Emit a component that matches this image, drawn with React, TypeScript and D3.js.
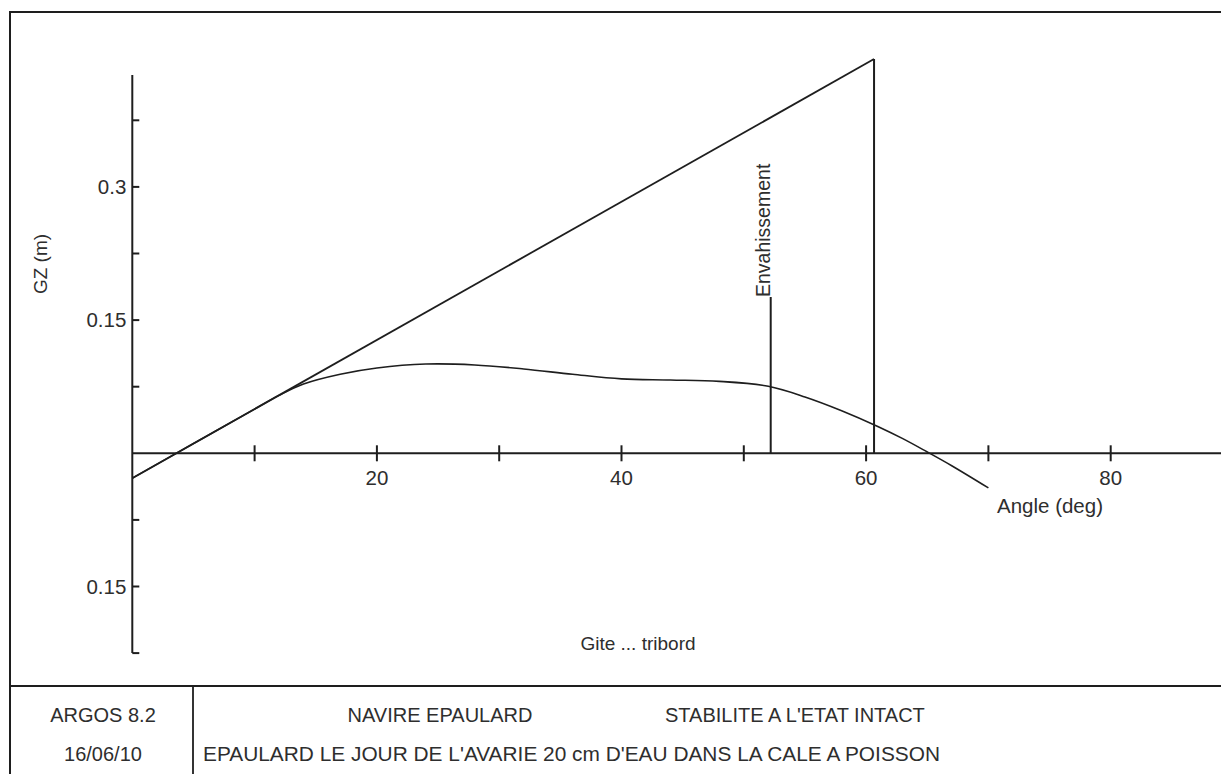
import React from "react";
import * as d3 from "d3";

// ---- data ----
const gzAngles = [0, 5, 10, 12, 14, 17, 20, 24, 28, 32, 36, 40, 44, 48, 52, 55, 58, 61, 63, 65, 67, 70];
const gzValues = [-0.028, 0.011, 0.0498, 0.0652, 0.078, 0.089, 0.096, 0.1005, 0.0995, 0.095, 0.089, 0.0838, 0.0826, 0.081, 0.0755, 0.0635, 0.048, 0.03, 0.0165, 0.0015, -0.014, -0.039];
const heelLineAngles = [0, 60.65];
const heelLineValues = [-0.028, 0.444];
const floodingAngle = 52.2;
const floodingTop = 0.176;
const xTicks = [10, 20, 30, 40, 50, 60, 70, 80, 90];
const xTickLabels = [20, 40, 60, 80];
const yTicks = [0.375, 0.3, 0.225, 0.15, 0.075, -0.075, -0.15, -0.225];
const yTickLabels = [0.3, 0.15, -0.15];

const W = 1221;
const H = 774;
const FONT = "'Liberation Sans', Arial, sans-serif";
const INK = "#1e1e1e";
const TXT = "#2e2e2e";

export default function App() {
  const x = d3.scaleLinear().domain([0, 10]).range([132.3, 254.6]);
  const y = d3.scaleLinear().domain([0, 0.075]).range([453.3, 386.7]);
  const x0 = x(0);
  const y0 = y(0);
  const yTop = y(0.426);
  const yBot = y(-0.225);

  const curve = d3
    .line<number>()
    .x((_, i) => x(gzAngles[i]))
    .y((d) => y(d))
    .curve(d3.curveCatmullRom.alpha(0.5))(gzValues) as string;

  const straight = d3
    .line<number>()
    .x((_, i) => x(heelLineAngles[i]))
    .y((d) => y(d))(heelLineValues) as string;

  const apexX = x(heelLineAngles[1]);
  const apexY = y(heelLineValues[1]);

  return (
    <svg
      width={W}
      height={H}
      viewBox={`0 0 ${W} ${H}`}
      style={{ position: "absolute", left: 0, top: 0, background: "#fff" }}
      fontFamily={FONT}
    >
      <rect x={0} y={0} width={W} height={H} fill="#fff" />
      {/* frame */}
      <rect x={10} y={12} width={1300} height={900} fill="none" stroke={INK} strokeWidth={2} />
      <line x1={10} x2={W} y1={686} y2={686} stroke={INK} strokeWidth={2.2} />
      <line x1={193} x2={193} y1={686} y2={H} stroke={INK} strokeWidth={1.8} />

      {/* axes */}
      <line x1={x0} x2={x0} y1={yTop} y2={yBot} stroke={INK} strokeWidth={2} />
      <line x1={x0} x2={W} y1={y0} y2={y0} stroke={INK} strokeWidth={2} />
      {yTicks.map((t) => (
        <line key={"yt" + t} x1={x0} x2={x0 + 7} y1={y(t)} y2={y(t)} stroke={INK} strokeWidth={2} />
      ))}
      {xTicks.map((t) => (
        <line key={"xt" + t} x1={x(t)} x2={x(t)} y1={y0 - 8} y2={y0 + 8} stroke={INK} strokeWidth={2} />
      ))}
      {yTickLabels.map((t) => (
        <text key={"yl" + t} x={x0 - 6} y={y(t) + 7} textAnchor="end" fontSize={20.5} fill={TXT}>
          {d3.format(".2~f")(Math.abs(t))}
        </text>
      ))}
      {xTickLabels.map((t) => (
        <text key={"xl" + t} x={x(t)} y={y0 + 32} textAnchor="middle" fontSize={20.5} fill={TXT}>
          {t}
        </text>
      ))}

      {/* axis titles */}
      <text transform={`translate(47,264) rotate(-90)`} textAnchor="middle" fontSize={19} fill={TXT}>
        GZ (m)
      </text>
      <text x={997} y={513} fontSize={20.5} fill={TXT}>
        Angle (deg)
      </text>
      <text x={638} y={650} textAnchor="middle" fontSize={19} fill={TXT}>
        Gite ... tribord
      </text>

      {/* data */}
      <path d={straight} fill="none" stroke={INK} strokeWidth={1.8} />
      <line x1={apexX} x2={apexX} y1={apexY} y2={y0} stroke={INK} strokeWidth={2} />
      <path d={curve} fill="none" stroke={INK} strokeWidth={1.6} />
      <line x1={x(floodingAngle)} x2={x(floodingAngle)} y1={y(floodingTop)} y2={y0} stroke={INK} strokeWidth={2} />
      <text
        transform={`translate(${x(floodingAngle) - 1},${y(floodingTop)}) rotate(-90)`}
        fontSize={19.5}
        fill={TXT}
      >
        Envahissement
      </text>

      {/* title block */}
      <text x={103} y={722} textAnchor="middle" fontSize={20} fill={TXT}>
        ARGOS 8.2
      </text>
      <text x={103} y={761} textAnchor="middle" fontSize={20} fill={TXT}>
        16/06/10
      </text>
      <text x={440} y={722} textAnchor="middle" fontSize={20} fill={TXT}>
        NAVIRE EPAULARD
      </text>
      <text x={665} y={722} fontSize={20} fill={TXT}>
        STABILITE A L'ETAT INTACT
      </text>
      <text x={203} y={761} fontSize={20} fill={TXT} textLength={737} lengthAdjust="spacingAndGlyphs">
        EPAULARD LE JOUR DE L'AVARIE 20 cm D'EAU DANS LA CALE A POISSON
      </text>
    </svg>
  );
}
